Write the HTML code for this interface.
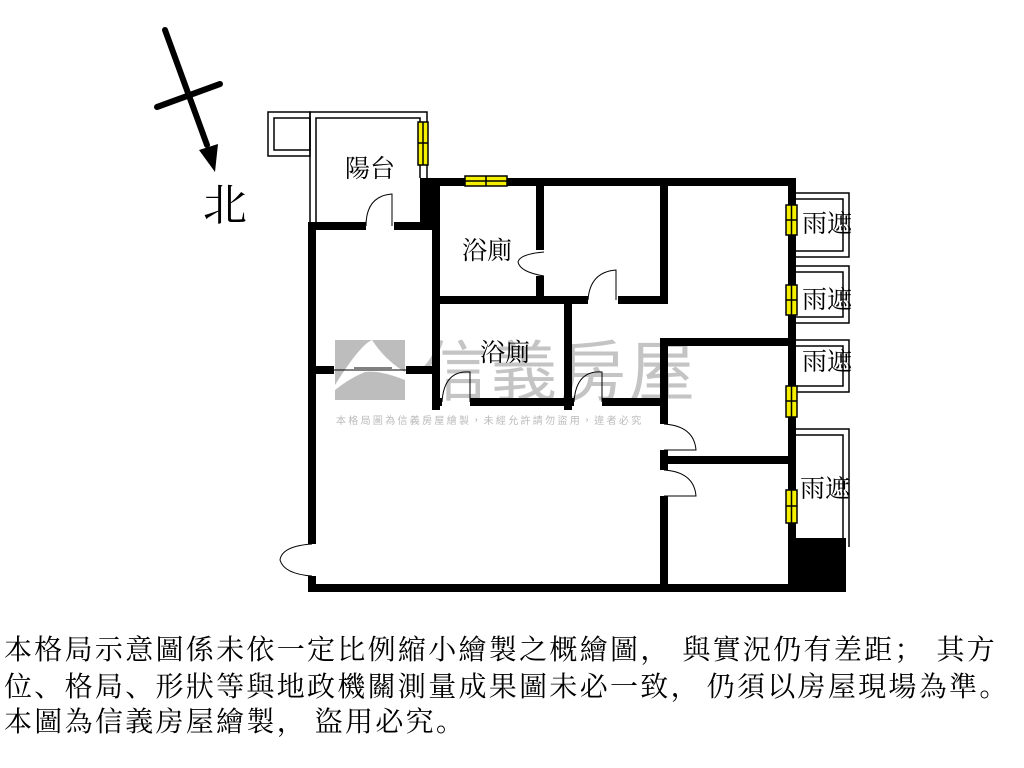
<!DOCTYPE html>
<html><head><meta charset="utf-8"><style>
html,body{margin:0;padding:0;background:#fff;width:1024px;height:768px;overflow:hidden}
.t{position:absolute;left:4px;font-family:"Liberation Serif","Noto Serif CJK SC",serif;font-size:28px;color:#000;white-space:nowrap;letter-spacing:2.3px}
</style></head><body>
<svg width="1024" height="768" style="position:absolute;left:0;top:0" font-family="Liberation Sans, Noto Sans CJK TC, sans-serif">
<rect x="335" y="340" width="70" height="60" fill="#bdbdbd"/>
<path d="M335 385 Q360 345 372 340 Q385 360 405 372 L405 380 Q380 370 365 372 Q350 378 335 390Z" fill="#fff"/>
<text x="422" y="395" font-size="66" fill="#c4c4c4" letter-spacing="3">信義房屋</text>
<text x="336" y="424" font-size="10" fill="#bbb" letter-spacing="2.3">本格局圖為信義房屋繪製，未經允許請勿盜用，違者必究</text>
<g stroke="#000" stroke-width="6" stroke-linecap="round">
<line x1="165" y1="30" x2="207" y2="145"/>
<line x1="157" y1="107" x2="220" y2="84"/>
</g>
<polygon points="199,150 218,144 215,172" fill="#000"/>
<text x="203" y="220" font-size="44" font-family="Liberation Serif, Noto Serif CJK SC, serif">北</text>
<g fill="none" stroke="#000" stroke-width="1.5">
<rect x="268" y="112" width="42" height="44"/>
<rect x="274" y="118" width="36" height="32"/>
<path d="M310 222 V112 H427 V178"/>
<path d="M316 222 V118 H420 V178"/>
<path d="M796 193 H849 V257 H796"/><path d="M796 199 H843 V251 H796"/>
<path d="M796 266 H849 V323 H796"/><path d="M796 272 H843 V317 H796"/>
<path d="M796 340 H849 V392 H796"/><path d="M796 346 H843 V386 H796"/>
<path d="M796 429 H849 V547"/><path d="M796 435 H843 V547"/>
</g>
<g fill="#000">
<rect x="308" y="222" width="8" height="322"/>
<rect x="308" y="576" width="8" height="16"/>
<rect x="308" y="584" width="488" height="8"/>
<rect x="788" y="178" width="8" height="414"/>
<rect x="420" y="178" width="376" height="8"/>
<rect x="420" y="178" width="20" height="52"/>
<rect x="308" y="222" width="58" height="8"/>
<rect x="394" y="222" width="46" height="8"/>
<rect x="432" y="178" width="8" height="232"/>
<rect x="536" y="178" width="8" height="72"/>
<rect x="536" y="276" width="8" height="28"/>
<rect x="432" y="296" width="156" height="8"/>
<rect x="618" y="296" width="50" height="8"/>
<rect x="660" y="178" width="8" height="126"/>
<rect x="564" y="300" width="8" height="110"/>
<rect x="432" y="398" width="10" height="8"/>
<rect x="470" y="398" width="104" height="8"/>
<rect x="602" y="398" width="66" height="8"/>
<rect x="308" y="366" width="26" height="8"/>
<rect x="406" y="366" width="34" height="8"/>
<rect x="660" y="338" width="136" height="8"/>
<rect x="660" y="338" width="8" height="86"/>
<rect x="660" y="450" width="8" height="20"/>
<rect x="660" y="456" width="136" height="8"/>
<rect x="660" y="496" width="8" height="96"/>
<rect x="788" y="538" width="58" height="54"/>
</g>
<g fill="none" stroke="#000" stroke-width="1">
<path d="M366 226 Q366 196 392 194 V226"/>
<path d="M544 252 Q520 254 518 262 Q520 272 544 276"/>
<path d="M588 300 Q590 272 616 270 V300"/>
<path d="M442 402 Q444 370 470 372 V402"/>
<path d="M574 402 Q576 370 602 372 V402"/>
<line x1="334" y1="370" x2="406" y2="370"/>
<line x1="354" y1="368" x2="392" y2="368"/>
<path d="M664 424 Q694 426 696 450 H664"/>
<path d="M664 470 Q694 472 696 496 H664"/>
<path d="M312 544 Q282 546 280 560 Q284 574 312 576"/>
</g>
<g fill="#f4f000" stroke="#000" stroke-width="1.5">
<rect x="418" y="122" width="10" height="43"/>
<line x1="423" y1="122" x2="423" y2="165"/><line x1="418" y1="143" x2="428" y2="143"/>
<rect x="465" y="176" width="42" height="10"/>
<line x1="465" y1="181" x2="507" y2="181"/><line x1="486" y1="176" x2="486" y2="186"/>
<rect x="786" y="205" width="11" height="30"/><rect x="786" y="285" width="11" height="30"/>
<rect x="786" y="386" width="11" height="31"/><rect x="786" y="490" width="11" height="33"/>
<path d="M791.5 205V235M786 220H797M791.5 285V315M786 300H797M791.5 386V417M786 401H797M791.5 490V523M786 506H797"/>
</g>
<g font-size="25" font-family="Liberation Serif, Noto Serif CJK SC, serif">
<text x="345" y="177">陽台</text>
<text x="462" y="259">浴廁</text>
<text x="480" y="361">浴廁</text>
<text x="802" y="232">雨遮</text>
<text x="802" y="308">雨遮</text>
<text x="802" y="370">雨遮</text>
<text x="800" y="497">雨遮</text>
</g>
</svg>
<div class="t" style="top:628px">本格局示意圖係未依一定比例縮小繪製之概繪圖<span style="letter-spacing:14px">，</span>與實況仍有差距<span style="letter-spacing:14px">；</span>其方</div>
<div class="t" style="top:665px">位、格局、形狀等與地政機關測量成果圖未必一致<span style="letter-spacing:8px">，</span>仍須以房屋現場為準。</div>
<div class="t" style="top:700px">本圖為信義房屋繪製<span style="letter-spacing:10px">，</span>盜用必究。</div>
</body></html>
